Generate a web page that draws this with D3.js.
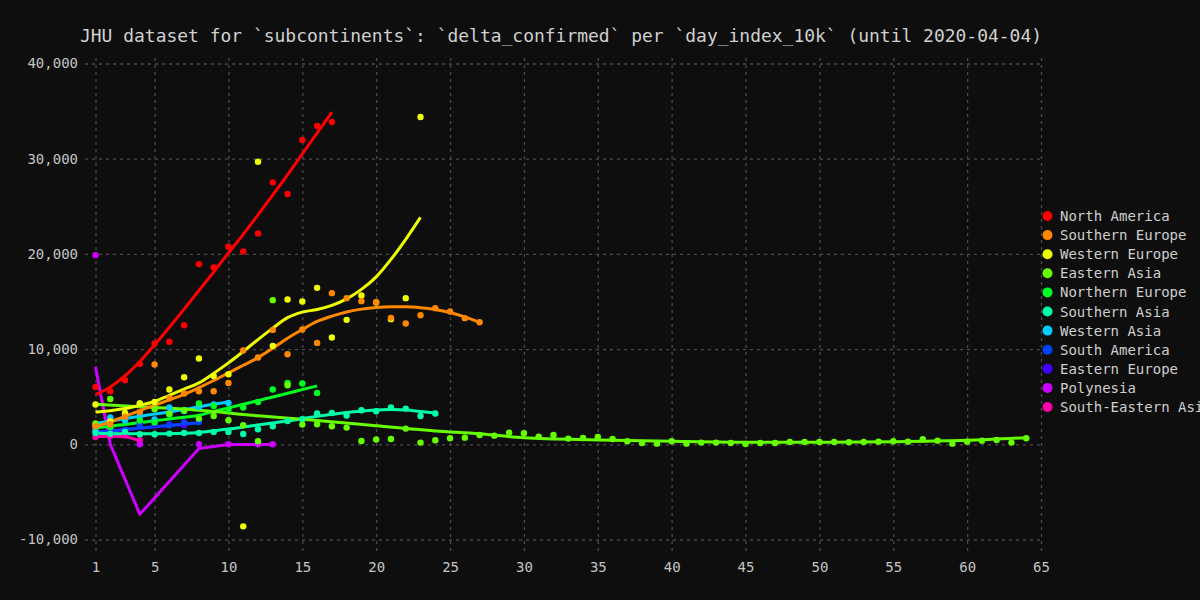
<!DOCTYPE html>
<html><head><meta charset="utf-8">
<script src="https://cdn.jsdelivr.net/npm/d3@7"></script>
<style>body{margin:0;background:#0e0e0e;} svg{display:block}</style>
</head><body><svg id="c" width="1200" height="600"></svg>
<script>
const titleText = "JHU dataset for `subcontinents`: `delta_confirmed` per `day_index_10k` (until 2020-04-04)";
const categories = ["North America","Southern Europe","Western Europe","Eastern Asia","Northern Europe","Southern Asia","Western Asia","South America","Eastern Europe","Polynesia","South-Eastern Asia"];
const colors = ["#ff0000","#ff8800","#eeff00","#66ff00","#00ff22","#00ffaa","#00ccff","#0044ff","#4400ff","#cc00ff","#ff00aa"];
const xTicks = [1,5,10,15,20,25,30,35,40,45,50,55,60,65];
const yTicks = [-10000,0,10000,20000,30000,40000];

// points (day 1, 2, 3, ... unless days given)
const northAmerica = [6025,5573,6730,8443,10589,10778,12513,18927,18580,20746,20263,22155,27518,26288,31966,33438,33858];
const northAmericaFit = [5220,6030,7200,8700,10450,12300,14200,16150,18100,20100,22050,24100,26200,28300,30500,32700,34900];

const southernEurope = [1900,2100,2900,3400,8380,4840,5330,5573,5573,6446,9852,9116,12019,9464,12061,10652,15878,15352,15036,14931,13281,12692,13564,14300,13953,13249,12828];
const southernEuropeFit = [1820,2370,2940,3540,4100,4670,5250,5950,6700,7500,8300,9100,10100,11150,12060,12900,13460,13900,14200,14374,14440,14437,14350,14164,13850,13386,12797];

const westernEurope = [4175,2400,3300,4280,4450,5750,7045,9011,7180,7360,-8620,29680,10340,15215,15000,16435,11220,13070,15636,14900,13144,15352,34384];
const westernEuropeFit = [3400,3530,3750,4100,4500,5150,5800,6450,7450,8550,9750,11000,12200,13300,13880,14160,14600,15280,16270,17590,19420,21530,23840];

const easternAsia = [2200,4765,3155,4280,3700,3230,3575,2700,2976,2524,2000,315,15140,6200,2070,2100,1890,1755,350,500,560,1650,180,420,630,700,980,910,1230,1160,810,980,600,660,770,560,315,140,70,315,70,180,180,140,35,140,140,245,245,245,245,210,245,280,315,280,525,385,70,280,385,455,180,630];
const easternAsiaFitDays = [1,4,8,12,16,20,24,27,30,35,40,45,50,55,60,64];
const easternAsiaFit = [4200,3950,3570,3000,2500,1950,1400,1100,680,460,320,220,210,280,420,700];

const northernEurope = [2000,1800,3155,2500,2300,3120,3575,4280,4030,3650,3860,4450,5750,6450,6380,5400];
const northernEuropeFit = [1710,1900,2090,2280,2470,2660,2850,3050,3440,3820,4200,4590,4970,5360,5750,6130];

const southernAsia = [1200,1100,1300,1050,1050,1125,1190,1190,1300,1300,1083,1577,1890,2450,2630,3230,3290,3020,3575,3470,3860,3750,2980,3230];
const southernAsiaFit = [1150,1130,1110,1100,1110,1130,1160,1250,1420,1600,1810,2030,2240,2450,2700,2950,3150,3350,3480,3600,3650,3600,3450,3300];

const westernAsia = [1500,2808,2500,3000,2600,3860,3500,3920,4175,4345];
const westernAsiaFit = [2180,2450,2700,2950,3180,3400,3650,3950,4200,4450];

const southAmerica = [1300,1200,1500,1900,2400,2000,2300,2345];
const southAmericaFit = [1290,1420,1560,1700,1840,1980,2120,2260];

const easternEurope = [1188,1472,1500,2177,2100,2100,2000];
const easternEuropeFit = [1230,1380,1530,1680,1830,1960,2080];

const polynesiaDays = [1,2,4,8,10,12,13];
const polynesia = [19870,1150,0,0,0,0,0];
const polynesiaFit = [8130,0,-7360,-450,-30,-30,-30];

const seAsia = [770,870,950,420];
const seAsiaFit = [800,850,790,350];

const seq = n => d3.range(1, n + 1);
const series = [
  {v: northAmerica, f: northAmericaFit},
  {v: southernEurope, f: southernEuropeFit},
  {v: westernEurope, f: westernEuropeFit},
  {v: easternAsia, f: easternAsiaFit, fd: easternAsiaFitDays, curve: d3.curveMonotoneX},
  {v: northernEurope, f: northernEuropeFit},
  {v: southernAsia, f: southernAsiaFit},
  {v: westernAsia, f: westernAsiaFit},
  {v: southAmerica, f: southAmericaFit},
  {v: easternEurope, f: easternEuropeFit},
  {v: polynesia, d: polynesiaDays, f: polynesiaFit, fd: polynesiaDays, curve: d3.curveLinear},
  {v: seAsia, f: seAsiaFit}
].map((s, i) => ({
  name: categories[i], color: colors[i],
  pts: (s.d || seq(s.v.length)).map((d, j) => [d, s.v[j]]),
  fit: (s.fd || seq(s.f.length)).map((d, j) => [d, s.f[j]]),
  curve: s.curve || d3.curveMonotoneX
}));

const svg = d3.select("#c");
svg.append("rect").attr("width",1200).attr("height",600).attr("fill","#0e0e0e");
const font = "'DejaVu Sans Mono', monospace";

const x = d3.scaleLinear().domain([1,65]).range([95.5,1041]);
const y = d3.scaleLinear().domain([-10000,40000]).range([539.5,63.5]);
const plotLeft = 85, plotRight = 1041, plotTop = 54, plotBottom = 551;

const xAxis = svg.append("g").attr("transform",`translate(0,${plotBottom})`)
  .call(d3.axisBottom(x).tickValues(xTicks).tickSizeInner(-(plotBottom-plotTop)).tickSizeOuter(0).tickPadding(11).tickFormat(d3.format("d")));
const yAxis = svg.append("g").attr("transform",`translate(${plotLeft},0)`)
  .call(d3.axisLeft(y).tickValues(yTicks).tickSizeInner(-(plotRight-plotLeft)).tickSizeOuter(0).tickPadding(7)
    .tickFormat(d => d3.format(",")(d).replace("\u2212","-")));
[xAxis, yAxis].forEach(g => {
  g.select(".domain").remove();
  g.selectAll(".tick line").attr("stroke","#4a4a4a").attr("stroke-width",1.3).attr("stroke-dasharray","3,4");
  g.selectAll(".tick text").attr("fill","#c4c4c4").style("font-family",font).style("font-size","14px");
});

const rev = series.slice().reverse();
const lineGen = d3.line().x(d => x(d[0])).y(d => y(d[1]));
svg.append("g").selectAll("path").data(rev).join("path")
  .attr("d", s => lineGen.curve(s.curve)(s.fit))
  .attr("fill","none").attr("stroke", s => s.color).attr("stroke-width",3)
  .attr("stroke-linejoin","round");

const pg = svg.append("g");
rev.forEach(s => {
  pg.append("g").selectAll("circle").data(s.pts).join("circle")
    .attr("cx", d => x(d[0])).attr("cy", d => y(d[1])).attr("r", 3.2).attr("fill", s.color);
});

svg.append("text").attr("x",80).attr("y",35).attr("dominant-baseline","central")
  .attr("fill","#d0d0d0").style("font-family",font).style("font-size","18.5px")
  .attr("textLength",962).attr("lengthAdjust","spacingAndGlyphs").text(titleText);

const lg = svg.append("g");
series.forEach((s, i) => {
  const yy = 216 + i * 19.1;
  lg.append("circle").attr("cx",1047.5).attr("cy",yy).attr("r",5).attr("fill",s.color);
  lg.append("text").attr("x",1060).attr("y",yy).attr("dominant-baseline","central")
    .attr("fill","#cfcfcf").style("font-family",font).style("font-size","14px").text(s.name);
});
</script></body></html>
